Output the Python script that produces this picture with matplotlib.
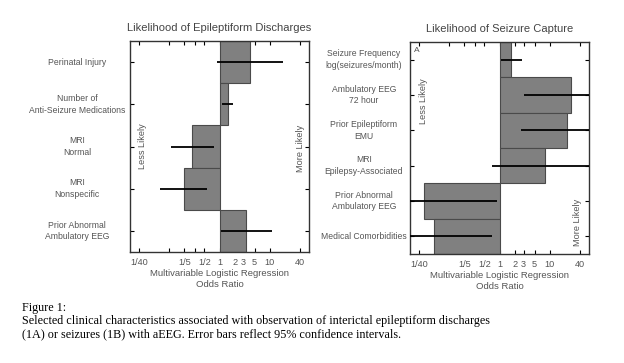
import numpy as np
import matplotlib
matplotlib.use("Agg")
import matplotlib.pyplot as plt
import matplotlib.transforms as mtransforms

# --- datos panel A: descargas epileptiformes ---
etiquetas_a = ["Perinatal Injury", "Number of\nAnti-Seizure Medications", "MRI\nNormal",
               "MRI\nNonspecific", "Prior Abnormal\nAmbulatory EEG"]
or_a = [4.0, 1.48, 0.284, 0.195, 3.4]
ci_bajo_a = [0.9, 1.14, 0.107, 0.066, 1.08]
ci_alto_a = [18.2, 1.89, 0.76, 0.57, 10.8]

# --- datos panel B: captura de crisis ---
etiquetas_b = ["Seizure Frequency\nlog(seizures/month)", "Ambulatory EEG\n72 hour",
               "Prior Epileptiform\nEMU", "MRI\nEpilepsy-Associated",
               "Prior Abnormal\nAmbulatory EEG", "Medical Comorbidities"]
or_b = [1.72, 26.0, 22.0, 7.9, 0.031, 0.051]
ci_bajo_b = [1.07, 3.1, 2.7, 0.71, 0.005, 0.005]
ci_alto_b = [2.8, 200.0, 200.0, 200.0, 0.89, 0.71]

ticks_x = [1/40, 1/10, 1/5, 1/3, 1/2, 1, 2, 3, 5, 10, 40]
etiquetas_x = ["1/40", "", "1/5", "", "1/2", "1", "2", "3", "5", "10", "40"]

GRIS_TXT = "#555555"
plt.rcParams['font.family'] = ['Liberation Sans', 'DejaVu Sans']

fig = plt.figure(figsize=(6.24, 3.63), dpi=100)
W, H = 624, 363


def panel(rect_px, titulo, etiquetas, valores, bajo, alto, x_etiq, texto_menos, texto_mas):
    izq, arriba, ancho, alto_px = rect_px
    ax = fig.add_axes([izq / W, 1 - (arriba + alto_px) / H, ancho / W, alto_px / H])
    y = np.arange(len(etiquetas))
    ancho_barras = np.array(valores) - 1
    ax.barh(y, ancho_barras, left=1, height=1.0, color="#808080",
            edgecolor="#4a4a4a", linewidth=0.8, zorder=2)
    for yi, lo, hi in zip(y, bajo, alto):
        ax.plot([lo, hi], [yi, yi], color="black", lw=1.3, zorder=3, solid_capstyle="butt")
    ax.set_xscale("log")
    ax.set_xlim(1/60, 60)
    ax.set_ylim(len(etiquetas) - 0.5, -0.5)
    ax.set_xticks(ticks_x)
    ax.set_xticklabels(etiquetas_x)
    ax.minorticks_off()
    ax.set_yticks(y)
    ax.set_yticklabels([])
    ax.tick_params(axis="x", direction="in", top=True, length=3, width=0.8,
                   labelsize=6.6, labelcolor=GRIS_TXT, pad=4)
    ax.tick_params(axis="y", direction="in", right=True, length=3, width=0.8)
    for s in ax.spines.values():
        s.set_color("#333333")
        s.set_linewidth(1.0)
    ax.set_title(titulo, fontsize=8, color="#444444", pad=7)
    ax.set_xlabel("Multivariable Logistic Regression\nOdds Ratio", fontsize=6.8,
                  color=GRIS_TXT, labelpad=2, linespacing=1.25)
    trans = mtransforms.blended_transform_factory(ax.transAxes, ax.transData)
    for yi, et in zip(y, etiquetas):
        ax.text(x_etiq, yi, et, transform=trans, ha="center", va="center",
                fontsize=6.2, color=GRIS_TXT, linespacing=1.35)
    ax.text(*texto_menos, "Less Likely", transform=ax.transAxes, rotation=90,
            ha="center", va="center", fontsize=6.6, color=GRIS_TXT)
    ax.text(*texto_mas, "More Likely", transform=ax.transAxes, rotation=90,
            ha="center", va="center", fontsize=6.6, color=GRIS_TXT)
    return ax


ax1 = panel((130, 41, 179, 211), "Likelihood of Epileptiform Discharges",
            etiquetas_a, or_a, ci_bajo_a, ci_alto_a, -0.296,
            (0.068, 0.5), (0.95, 0.49))
ax2 = panel((410, 42, 179, 212), "Likelihood of Seizure Capture",
            etiquetas_b, or_b, ci_bajo_b, ci_alto_b, -0.257,
            (0.078, 0.72), (0.936, 0.15))
ax2.text(0.025, 0.975, "A", transform=ax2.transAxes, ha="left", va="top",
         fontsize=6, color=GRIS_TXT)

# --- pie de figura ---
fig.text(21.5 / W, 1 - 302 / H,
         "Figure 1:\nSelected clinical characteristics associated with observation of interictal epileptiform discharges\n(1A) or seizures (1B) with aEEG. Error bars reflect 95% confidence intervals.",
         ha="left", va="top", fontsize=8.7, family=["Liberation Serif", "DejaVu Serif"],
         color="black", linespacing=1.15)

fig.savefig("out.png", dpi=100, facecolor="white")
